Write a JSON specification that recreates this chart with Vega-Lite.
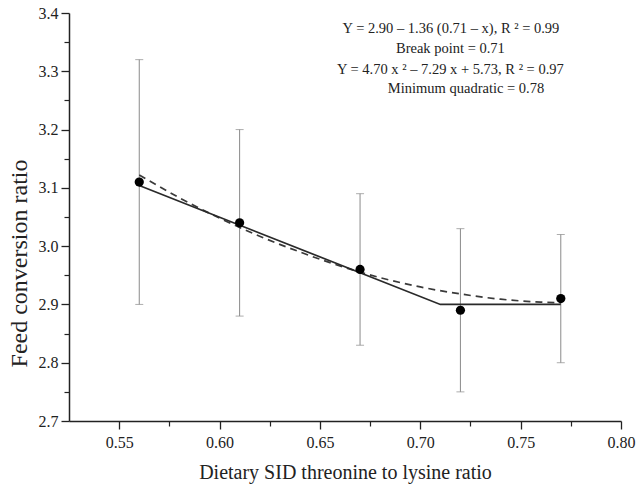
{
  "$schema": "https://vega.github.io/schema/vega-lite/v6.json",
  "width": 552,
  "height": 408,
  "autosize": "none",
  "padding": {"left": 69, "top": 13, "right": 21, "bottom": 68},
  "background": "white",
  "config": {
    "view": {"stroke": null},
    "font": "Liberation Serif",
    "style": {
      "guide-label": {"font": "Liberation Serif", "fontSize": 16, "fill": "#222222"},
      "guide-title": {"font": "Liberation Serif", "fontWeight": "normal", "fill": "#222222"}
    },
    "axis": {
      "grid": false,
      "labelFont": "Liberation Serif",
      "titleFont": "Liberation Serif",
      "labelColor": "#222222",
      "titleColor": "#222222",
      "domainColor": "#222222",
      "tickColor": "#222222",
      "titleFontWeight": "normal",
      "labelFontSize": 16
    }
  },
  "datasets": {
    "obs": [
      {"ratio": 0.56, "fcr": 3.11, "lo": 2.90, "hi": 3.32},
      {"ratio": 0.61, "fcr": 3.04, "lo": 2.88, "hi": 3.20},
      {"ratio": 0.67, "fcr": 2.96, "lo": 2.83, "hi": 3.09},
      {"ratio": 0.72, "fcr": 2.89, "lo": 2.75, "hi": 3.03},
      {"ratio": 0.77, "fcr": 2.91, "lo": 2.80, "hi": 3.02}
    ],
    "broken": [
      {"ratio": 0.56, "fcr": 3.104},
      {"ratio": 0.71, "fcr": 2.90},
      {"ratio": 0.77, "fcr": 2.90}
    ],
    "quad": [
      {"ratio": 0.56, "fcr": 3.122},
      {"ratio": 0.58, "fcr": 3.083},
      {"ratio": 0.60, "fcr": 3.048},
      {"ratio": 0.62, "fcr": 3.017},
      {"ratio": 0.64, "fcr": 2.990},
      {"ratio": 0.66, "fcr": 2.966},
      {"ratio": 0.68, "fcr": 2.946},
      {"ratio": 0.70, "fcr": 2.930},
      {"ratio": 0.72, "fcr": 2.918},
      {"ratio": 0.74, "fcr": 2.909},
      {"ratio": 0.76, "fcr": 2.904},
      {"ratio": 0.77, "fcr": 2.903}
    ],
    "notes": [
      {"ratio": 0.7153, "fcr": 3.3725, "label": "Y = 2.90 – 1.36 (0.71 – x), R ² = 0.99"},
      {"ratio": 0.7150, "fcr": 3.3382, "label": "Break point = 0.71"},
      {"ratio": 0.7150, "fcr": 3.3022, "label": "Y = 4.70 x ² – 7.29 x + 5.73, R ² = 0.97"},
      {"ratio": 0.7228, "fcr": 3.2696, "label": "Minimum quadratic = 0.78"}
    ]
  },
  "resolve": {"axis": {"x": "independent", "y": "independent"}},
  "layer": [
    {
      "data": {"name": "obs"},
      "mark": {"type": "rule", "color": "#8a8a8a", "strokeWidth": 1},
      "encoding": {
        "x": {
          "field": "ratio", "type": "quantitative",
          "scale": {"domain": [0.525, 0.8], "nice": false, "zero": false},
          "axis": {
            "orient": "bottom",
            "values": [0.55, 0.6, 0.65, 0.7, 0.75, 0.8],
            "format": ".2f",
            "labelFont": "Liberation Serif", "labelFontSize": 16, "labelColor": "#222222",
            "tickSize": 8, "tickWidth": 1.3, "domainWidth": 1.5,
            "labelPadding": 5, "labelFlush": false,
            "title": "Dietary SID threonine to lysine ratio",
            "titleFont": "Liberation Serif",
            "titleFontSize": 20, "titleBaseline": "middle", "titleY": 51,
            "encode": {"labels": {"update": {"font": {"value": "Liberation Serif"}, "fontSize": {"value": 16}}}}
          }
        },
        "y": {
          "field": "lo", "type": "quantitative",
          "scale": {"domain": [2.7, 3.4], "nice": false, "zero": false},
          "axis": {
            "orient": "left",
            "values": [2.7, 2.8, 2.9, 3.0, 3.1, 3.2, 3.3, 3.4],
            "format": ".1f",
            "labelFont": "Liberation Serif", "labelFontSize": 16, "labelColor": "#222222",
            "tickSize": 8, "tickWidth": 1.3, "domainWidth": 1.5,
            "labelPadding": 3, "labelFlush": false,
            "title": "Feed conversion ratio",
            "titleFont": "Liberation Serif",
            "titleFontSize": 24, "titleAngle": -90, "titleBaseline": "middle",
            "titleAlign": "center", "titleX": -50, "titleY": 250,
            "encode": {"labels": {"update": {"font": {"value": "Liberation Serif"}, "fontSize": {"value": 16}}}}
          }
        },
        "y2": {"field": "hi"}
      }
    },
    {
      "data": {"name": "obs"},
      "mark": {"type": "tick", "orient": "horizontal", "size": 8, "thickness": 1, "color": "#8a8a8a"},
      "encoding": {
        "x": {"field": "ratio", "type": "quantitative", "scale": {"domain": [0.525, 0.8], "nice": false, "zero": false}, "axis": null},
        "y": {"field": "lo", "type": "quantitative", "scale": {"domain": [2.7, 3.4], "nice": false, "zero": false}, "axis": null}
      }
    },
    {
      "data": {"name": "obs"},
      "mark": {"type": "tick", "orient": "horizontal", "size": 8, "thickness": 1, "color": "#8a8a8a"},
      "encoding": {
        "x": {"field": "ratio", "type": "quantitative", "scale": {"domain": [0.525, 0.8], "nice": false, "zero": false}, "axis": null},
        "y": {"field": "hi", "type": "quantitative", "scale": {"domain": [2.7, 3.4], "nice": false, "zero": false}, "axis": null}
      }
    },
    {
      "data": {"name": "quad"},
      "mark": {"type": "line", "color": "#3a3a3a", "strokeWidth": 1.7, "strokeDash": [7, 5], "interpolate": "monotone"},
      "encoding": {
        "x": {"field": "ratio", "type": "quantitative", "scale": {"domain": [0.525, 0.8], "nice": false, "zero": false}, "axis": null},
        "y": {"field": "fcr", "type": "quantitative", "scale": {"domain": [2.7, 3.4], "nice": false, "zero": false}, "axis": null}
      }
    },
    {
      "data": {"name": "broken"},
      "mark": {"type": "line", "color": "#2a2a2a", "strokeWidth": 1.7},
      "encoding": {
        "x": {"field": "ratio", "type": "quantitative", "scale": {"domain": [0.525, 0.8], "nice": false, "zero": false}, "axis": null},
        "y": {"field": "fcr", "type": "quantitative", "scale": {"domain": [2.7, 3.4], "nice": false, "zero": false}, "axis": null}
      }
    },
    {
      "data": {"name": "obs"},
      "mark": {"type": "circle", "color": "#000000", "size": 85, "opacity": 1},
      "encoding": {
        "x": {"field": "ratio", "type": "quantitative", "scale": {"domain": [0.525, 0.8], "nice": false, "zero": false}, "axis": null},
        "y": {"field": "fcr", "type": "quantitative", "scale": {"domain": [2.7, 3.4], "nice": false, "zero": false}, "axis": null}
      }
    },
    {
      "data": {"name": "notes"},
      "mark": {"type": "text", "font": "Liberation Serif", "fontSize": 14.5, "color": "#222222", "align": "center", "baseline": "middle"},
      "encoding": {
        "x": {"field": "ratio", "type": "quantitative", "scale": {"domain": [0.525, 0.8], "nice": false, "zero": false}, "axis": null},
        "y": {"field": "fcr", "type": "quantitative", "scale": {"domain": [2.7, 3.4], "nice": false, "zero": false}, "axis": null},
        "text": {"field": "label"}
      }
    },
    {
      "data": {"name": "obs"},
      "mark": {"type": "point", "opacity": 0},
      "encoding": {
        "x": {
          "field": "ratio", "type": "quantitative",
          "scale": {"domain": [0.525, 0.8], "nice": false, "zero": false},
          "axis": {"orient": "bottom", "values": [0.575, 0.625, 0.675, 0.725, 0.775], "labels": false, "domain": false, "tickSize": 5, "tickWidth": 1.2, "title": null}
        },
        "y": {
          "field": "fcr", "type": "quantitative",
          "scale": {"domain": [2.7, 3.4], "nice": false, "zero": false},
          "axis": {"orient": "left", "values": [2.75, 2.85, 2.95, 3.05, 3.15, 3.25, 3.35], "labels": false, "domain": false, "tickSize": 5, "tickWidth": 1.2, "title": null}
        }
      }
    }
  ]
}
